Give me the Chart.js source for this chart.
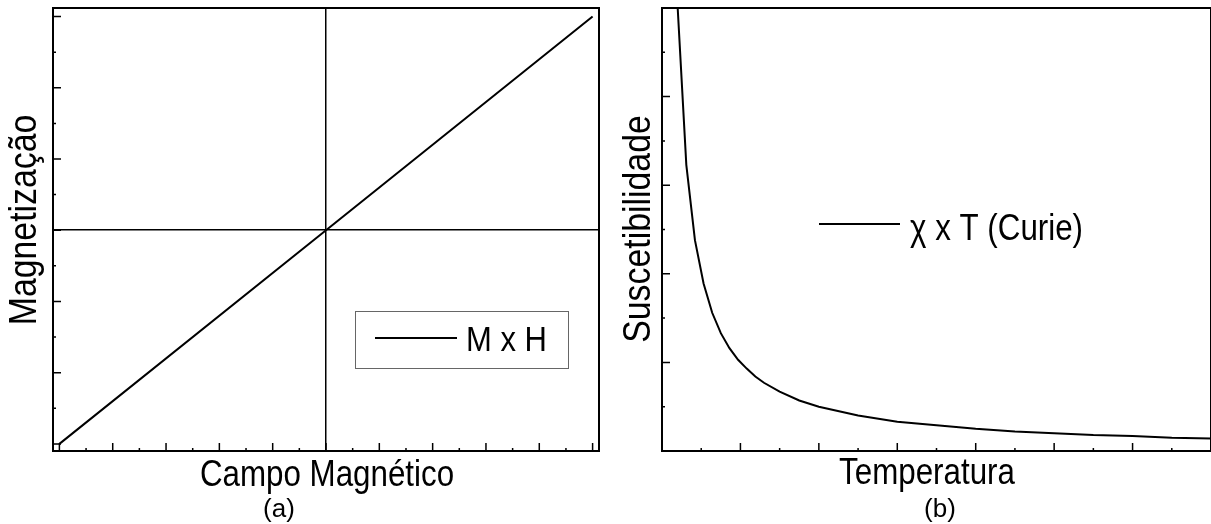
<!DOCTYPE html>
<html>
<head>
<meta charset="utf-8">
<script src="https://cdn.jsdelivr.net/npm/chart.js@4.4.1/dist/chart.umd.min.js"></script>
<style>
  html, body { margin:0; padding:0; background:#fff; overflow:hidden; width:1211px; height:524px; }
  .panel { position:absolute; top:0; height:524px; }
  #boxA { left:0; width:606px; }
  #boxB { left:606px; width:610px; }
</style>
</head>
<body>
<div class="panel" id="boxA"><canvas id="chartA" width="606" height="524"></canvas></div>
<div class="panel" id="boxB"><canvas id="chartB" width="610" height="524"></canvas></div>
<script>
// (a) magnetization vs field
const fieldH = [-5, 0, 5];
const magM   = [-3, 0, 3];
const aTicksXMajor = [-5, -4, -3, -2, -1, 0, 1, 2, 3, 4, 5];
const aTicksXMinor = [-4.5, -3.5, -2.5, -1.5, -0.5, 0.5, 1.5, 2.5, 3.5, 4.5];
const aTicksYMajor = [-3, -2, -1, 0, 1, 2, 3];
const aTicksYMinor = [-2.5, -1.5, -0.5, 0.5, 1.5, 2.5];

// (b) susceptibility vs temperature (Curie)
const tempT = [0.20, 0.31, 0.42, 0.53, 0.64, 0.75, 0.86, 0.97, 1.08, 1.19, 1.30, 1.50, 1.75, 2.00,
               2.50, 3.00, 3.50, 4.00, 4.50, 5.00, 5.50, 6.00, 6.50, 7.00];
const suscChi = [5.00, 3.23, 2.38, 1.89, 1.56, 1.33, 1.16, 1.03, 0.93, 0.84, 0.77, 0.67, 0.57, 0.50,
                 0.40, 0.33, 0.29, 0.25, 0.22, 0.20, 0.18, 0.17, 0.15, 0.14];
const bTicksXMajor = [1, 2, 3, 4, 5, 6];
const bTicksXMinor = [0.5, 1.5, 2.5, 3.5, 4.5, 5.5, 6.5];
const bTicksYMajor = [1, 2, 3, 4];
const bTicksYMinor = [0.5, 1.5, 2.5, 3.5, 4.5];

const FONT = "'Liberation Sans', Arial, sans-serif";

// frame + inward ticks on bottom and left
const frameTicks = {
  id: 'frameTicks',
  afterDraw(chart, args, o){
    const {ctx, chartArea: a, scales: {x, y}} = chart;
    ctx.save();
    ctx.strokeStyle = '#000';
    ctx.lineWidth = 2;
    ctx.strokeRect(a.left, a.top, a.right - a.left, a.bottom - a.top);
    ctx.lineWidth = 1.5;
    ctx.beginPath();
    const xt = (vals, len) => vals.forEach(v => { const p = x.getPixelForValue(v); ctx.moveTo(p, a.bottom); ctx.lineTo(p, a.bottom - len); });
    const yt = (vals, len) => vals.forEach(v => { const p = y.getPixelForValue(v); ctx.moveTo(a.left, p); ctx.lineTo(a.left + len, p); });
    xt(o.xMajor, 8); xt(o.xMinor, 3);
    yt(o.yMajor, 8); yt(o.yMinor, 3);
    ctx.stroke();
    ctx.restore();
  }
};

// condensed text (axis titles, legend label, panel letter) + legend sample line
const labels = {
  id: 'labels',
  afterDraw(chart, args, o){
    const ctx = chart.ctx;
    ctx.save();
    if(o.box){
      ctx.strokeStyle = '#666';
      ctx.lineWidth = 1;
      ctx.strokeRect(o.box[0] + 0.5, o.box[1] + 0.5, o.box[2], o.box[3]);
    }
    ctx.strokeStyle = '#000';
    ctx.lineWidth = 2;
    ctx.beginPath();
    ctx.moveTo(o.line[0], o.line[1]); ctx.lineTo(o.line[0] + o.line[2], o.line[1]);
    ctx.stroke();
    ctx.fillStyle = '#000';
    ctx.textBaseline = 'alphabetic';
    o.texts.forEach(t => {
      ctx.save();
      ctx.translate(t.x, t.y);
      if(t.rot) ctx.rotate(-Math.PI / 2);
      ctx.scale(t.sx || 1, 1);
      ctx.font = t.size + 'px ' + FONT;
      ctx.textAlign = t.align || 'center';
      ctx.fillText(t.text, 0, 0);
      ctx.restore();
    });
    ctx.restore();
  }
};

function makeChart(id, xs, ys, label, xr, yr, yw, pad, zeroLines, ticks, lab){
  const gridColor = c => (zeroLines && c.tick && c.tick.value === 0) ? '#000' : 'transparent';
  return new Chart(document.getElementById(id), {
    type: 'line',
    data: { datasets: [{ label, data: xs.map((v, i) => ({x: v, y: ys[i]})),
      borderColor: '#000', borderWidth: 2, pointRadius: 0, tension: 0, fill: false }] },
    options: {
      responsive: false,
      animation: false,
      layout: { padding: pad },
      plugins: { legend: { display: false }, tooltip: { enabled: false },
                 frameTicks: ticks, labels: lab },
      scales: {
        x: { type: 'linear', min: xr[0], max: xr[1],
             border: { display: false },
             grid: { drawTicks: false, lineWidth: 1.5, color: gridColor },
             ticks: { display: false, stepSize: 1 },
             afterFit: s => { s.height = 73; } },
        y: { type: 'linear', min: yr[0], max: yr[1],
             border: { display: false },
             grid: { drawTicks: false, lineWidth: 1.5, color: gridColor },
             ticks: { display: false, stepSize: 1 },
             afterFit: s => { s.width = yw; } }
      }
    },
    plugins: [frameTicks, labels]
  });
}

makeChart('chartA', fieldH, magM, 'M x H', [-5.12, 5.12], [-3.1, 3.12], 53,
  { top: 8, right: 7, left: 0, bottom: 0 }, true,
  { xMajor: aTicksXMajor, xMinor: aTicksXMinor, yMajor: aTicksYMajor, yMinor: aTicksYMinor },
  { box: [355, 311, 213, 57], line: [375, 338, 82],
    texts: [
      { text: 'Campo Magnético', x: 327, y: 486, size: 36, sx: 0.87 },
      { text: 'Magnetização', x: 36, y: 220, size: 38, sx: 0.89, rot: true },
      { text: 'M x H', x: 466, y: 351, size: 35, sx: 0.886, align: 'left' },
      { text: '(a)', x: 279, y: 517, size: 26 }
    ] });

makeChart('chartB', tempT, suscChi, 'χ x T (Curie)', [0, 7], [0, 5], 56,
  { top: 8, right: 5, left: 0, bottom: 0 }, false,
  { xMajor: bTicksXMajor, xMinor: bTicksXMinor, yMajor: bTicksYMajor, yMinor: bTicksYMinor },
  { box: null, line: [213, 224, 81],
    texts: [
      { text: 'Temperatura', x: 321, y: 484, size: 36, sx: 0.87 },
      { text: 'Suscetibilidade', x: 44, y: 229, size: 38, sx: 0.89, rot: true },
      { text: 'χ x T (Curie)', x: 304, y: 240, size: 36, sx: 0.87, align: 'left' },
      { text: '(b)', x: 334, y: 517, size: 26 }
    ] });
</script>
</body>
</html>
